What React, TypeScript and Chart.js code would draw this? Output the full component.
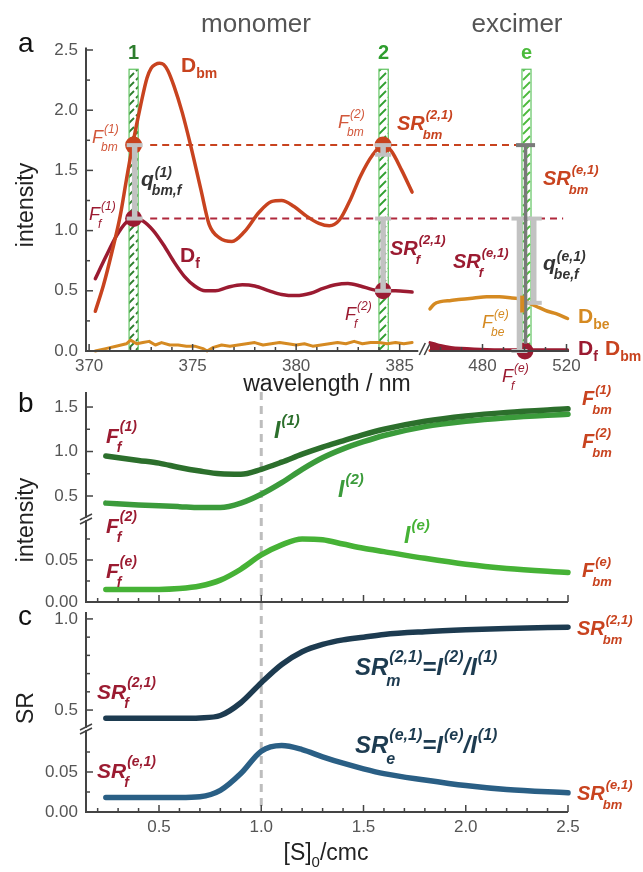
import React, { useEffect, useRef } from "react";
import { Chart, registerables } from "chart.js";
Chart.register(...registerables);

const W = 643;
const H = 872;
const FONT = "'Liberation Sans', Arial, Helvetica, sans-serif";
const TICK_COLOR = "#555";
const AXIS_COLOR = "#444";
const Y_BOX = 70;
const X_BOX = 30;

// ---------------- Panel a: spectra, monomer window ----------------
const wlBmMono = [370.3, 370.7, 371.1, 371.5, 371.8, 372.1, 372.5, 372.8, 373.0, 373.2, 373.4, 373.6, 373.8, 374.1, 374.5, 374.9, 375.4, 375.8, 376.3, 376.9, 377.5, 378.2, 378.8, 379.3, 379.9, 380.5, 381.1, 381.6, 382.1, 382.6, 383.1, 383.7, 384.2, 384.6, 385.1, 385.6];
const dBmMono = [0.33, 0.55, 0.82, 1.12, 1.42, 1.71, 2.05, 2.27, 2.35, 2.38, 2.39, 2.38, 2.33, 2.2, 1.98, 1.71, 1.34, 1.05, 0.94, 0.91, 0.99, 1.15, 1.24, 1.25, 1.2, 1.12, 1.06, 1.04, 1.09, 1.25, 1.45, 1.63, 1.71, 1.66, 1.5, 1.32];
const wlFMono = [370.3, 370.8, 371.3, 371.8, 372.2, 372.6, 373.1, 373.6, 374.1, 374.6, 375.1, 375.6, 376.1, 376.7, 377.4, 378.0, 378.7, 379.3, 380.0, 380.7, 381.3, 381.9, 382.5, 383.1, 383.7, 384.2, 384.8, 385.6];
const dFMono = [0.6, 0.78, 0.95, 1.07, 1.1, 1.08, 1.0, 0.88, 0.74, 0.62, 0.54, 0.5, 0.5, 0.53, 0.55, 0.54, 0.5, 0.47, 0.46, 0.48, 0.52, 0.55, 0.56, 0.54, 0.51, 0.5, 0.5, 0.49];
const wlBeMono = [370.3, 370.8, 371.3, 371.8, 372.0, 372.3, 372.6, 372.9, 373.2, 373.5, 373.9, 374.3, 374.7, 375.1, 375.5, 375.7, 376.0, 376.4, 376.8, 377.2, 377.6, 378.0, 378.4, 378.8, 379.2, 379.6, 380.0, 380.4, 380.8, 381.2, 381.6, 382.0, 382.4, 382.8, 383.2, 383.6, 384.0, 384.4, 384.8, 385.2, 385.6];
const dBeMono = [0.0, 0.02, 0.04, 0.06, 0.09, 0.06, 0.07, 0.08, 0.05, 0.07, 0.05, 0.05, 0.04, 0.04, 0.02, 0.0, 0.03, 0.05, 0.04, 0.05, 0.06, 0.07, 0.05, 0.06, 0.07, 0.06, 0.05, 0.06, 0.04, 0.05, 0.06, 0.07, 0.06, 0.08, 0.06, 0.07, 0.07, 0.06, 0.07, 0.06, 0.07];

// ---------------- Panel a: spectra, excimer window ----------------
const wlExc = [455, 457, 460, 465, 470, 476, 482, 488, 494, 499, 503, 507, 511, 515, 520.5];
const dBeExc = [0.35, 0.39, 0.41, 0.42, 0.43, 0.44, 0.45, 0.45, 0.44, 0.43, 0.39, 0.36, 0.33, 0.31, 0.27];
const dFExc = [0.07, 0.06, 0.045, 0.03, 0.022, 0.016, 0.012, 0.01, 0.01, 0.01, 0.01, 0.01, 0.01, 0.01, 0.01];
const dBmExc = [0.005, 0.005, 0.005, 0.005, 0.005, 0.005, 0.005, 0.005, 0.005, 0.005, 0.005, 0.005, 0.005, 0.005, 0.005];

// detection windows (hatched bars)
const barNames = ["1", "2", "e"];
const barWlFrom = [371.93, 384.0, 498.8];
const barWlTo = [372.37, 384.45, 503.1];
const barTop = 2.34;

// reference levels (dashed)
const levelVals = [1.71, 1.1];
const levelFrom = [372.95, 372.95];
const levelTo = [506.1, 518.4];

// marker points
const markBmWl = [372.15, 384.2];
const markBmVal = [1.71, 1.71];
const markFWl = [372.15, 384.2, 500.2];
const markFVal = [1.1, 0.5, 0.0];

// ratio bars (I-beams)
const ibWl = [372.2, 384.2, 384.2, 497.6, 504.4, 500.5, 498.9];
const ibTop = [1.71, 1.71, 1.1, 1.1, 1.1, 1.71, 0.46];
const ibBot = [1.1, 1.63, 0.5, 0.0, 0.4, 0.06, 0.32];
const ibKind = ["light", "light", "light", "light", "light", "dark", "orange"];

// ---------------- Panels b & c ----------------
const conc = [0.24, 0.4, 0.5, 0.6, 0.7, 0.8, 0.9, 1.0, 1.1, 1.2, 1.3, 1.4, 1.5, 1.6, 1.8, 2.0, 2.2, 2.5];
const int1 = [0.95, 0.9, 0.87, 0.82, 0.78, 0.75, 0.745, 0.8, 0.88, 0.97, 1.05, 1.12, 1.19, 1.25, 1.34, 1.4, 1.44, 1.48];
const int2 = [0.42, 0.4, 0.39, 0.38, 0.37, 0.37, 0.42, 0.52, 0.65, 0.8, 0.93, 1.03, 1.11, 1.18, 1.28, 1.34, 1.38, 1.42];
const intE = [0.015, 0.015, 0.015, 0.016, 0.019, 0.026, 0.039, 0.056, 0.068, 0.075, 0.074, 0.069, 0.064, 0.06, 0.052, 0.045, 0.04, 0.035];
const srM = [0.455, 0.455, 0.455, 0.455, 0.457, 0.47, 0.54, 0.65, 0.75, 0.82, 0.86, 0.885, 0.9, 0.915, 0.93, 0.94, 0.947, 0.955];
const srE = [0.018, 0.018, 0.018, 0.018, 0.019, 0.027, 0.048, 0.076, 0.083, 0.078, 0.069, 0.061, 0.054, 0.048, 0.04, 0.033, 0.028, 0.024];
const cmcValue = 1.0;

// tick definitions
const tickWlMono = [370, 375, 380, 385];
const tickWlExc = [480, 520];
const tickIntA = [0, 0.5, 1.0, 1.5, 2.0, 2.5];
const tickIntBUp = [0.5, 1.0, 1.5];
const tickLow = [0, 0.05];
const tickSrUp = [0.5, 1.0];
const tickConc = [0.5, 1.0, 1.5, 2.0, 2.5];

// colours
const cBm = "#c8431f";
const cBmLbl = "#d2583c";
const cF = "#9b1b31";
const cBe = "#d58a22";
const cI1 = "#2c6f2c";
const cI2 = "#3b9b3b";
const cIe = "#46b236";
const cSrM = "#1d3b50";
const cSrE = "#2a5f85";
const barColors = ["#2d7d2d", "#2f9e2f", "#4cbb3c"];

type Pt = { x: number; y: number };
const zip = (xs: number[], ys: number[]): Pt[] => xs.map((x, i) => ({ x, y: ys[i] }));

function curve(xs: number[], ys: number[], color: string, width: number, extra: any = {}) {
  return {
    data: zip(xs, ys),
    showLine: true,
    borderColor: color,
    backgroundColor: color,
    borderWidth: width,
    pointRadius: 0,
    cubicInterpolationMode: "monotone",
    borderCapStyle: "round",
    borderJoinStyle: "round",
    clip: false,
    fill: false,
    order: 5,
    ...extra,
  };
}

function fixedFit(s: any) {
  const shown = !!s.options.display;
  if (s.isHorizontal()) s.height = shown ? X_BOX : 0;
  else s.width = shown ? Y_BOX : 0;
  s.paddingLeft = 0;
  s.paddingRight = 0;
  s.paddingTop = 0;
  s.paddingBottom = 0;
}

function scale(axis: "x" | "y", min: number, max: number, labels: number[] | null, fmt: (v: number) => string, pad: number) {
  return {
    type: "linear",
    position: axis === "x" ? "bottom" : "left",
    min,
    max,
    display: !!labels,
    grid: { display: false, drawTicks: false },
    border: { display: false },
    ticks: {
      display: !!labels,
      autoSkip: false,
      maxRotation: 0,
      minRotation: 0,
      padding: pad,
      color: TICK_COLOR,
      font: { family: FONT, size: 17 },
      callback: (v: any) => fmt(Number(v)),
    },
    afterBuildTicks: (s: any) => {
      s.ticks = (labels || []).map((v) => ({ value: v }));
    },
    afterFit: fixedFit,
  };
}

function seg(ctx: CanvasRenderingContext2D, x1: number, y1: number, x2: number, y2: number) {
  ctx.beginPath();
  ctx.moveTo(x1, y1);
  ctx.lineTo(x2, y2);
  ctx.stroke();
}

type AxSpec = { from: number; to: number; majors: number[]; minors: number[] };
type AxesCfg = { x?: AxSpec; y?: AxSpec; yBreakBelow?: boolean; xBreakAfter?: boolean };

function axesPlugin(cfg: AxesCfg) {
  return {
    id: "axesDraw",
    afterDraw(chart: any) {
      const { ctx, chartArea: a } = chart;
      const xs = chart.scales.x;
      const ys = chart.scales.y;
      ctx.save();
      ctx.strokeStyle = AXIS_COLOR;
      ctx.lineCap = "butt";
      if (cfg.x) {
        const y0 = a.bottom;
        const x1 = xs.getPixelForValue(cfg.x.from);
        const x2 = xs.getPixelForValue(cfg.x.to);
        ctx.lineWidth = 2;
        seg(ctx, x1, y0, x2, y0);
        ctx.lineWidth = 1.5;
        cfg.x.majors.forEach((v) => {
          const p = xs.getPixelForValue(v);
          seg(ctx, p, y0, p, y0 - 7);
        });
        cfg.x.minors.forEach((v) => {
          const p = xs.getPixelForValue(v);
          seg(ctx, p, y0, p, y0 - 4);
        });
        if (cfg.xBreakAfter) {
          ctx.lineWidth = 1.6;
          seg(ctx, x2 + 1, y0 + 4, x2 + 7, y0 - 8);
          seg(ctx, x2 + 6, y0 + 4, x2 + 12, y0 - 8);
        }
      }
      if (cfg.y) {
        const x0 = a.left;
        const y1 = ys.getPixelForValue(cfg.y.from);
        const y2 = ys.getPixelForValue(cfg.y.to);
        ctx.lineWidth = 2;
        seg(ctx, x0, y1 + 1, x0, y2);
        ctx.lineWidth = 1.5;
        cfg.y.majors.forEach((v) => {
          const p = ys.getPixelForValue(v);
          seg(ctx, x0, p, x0 + 7, p);
        });
        cfg.y.minors.forEach((v) => {
          const p = ys.getPixelForValue(v);
          seg(ctx, x0, p, x0 + 4, p);
        });
        if (cfg.yBreakBelow) {
          const b = a.bottom;
          ctx.lineWidth = 1.6;
          seg(ctx, x0 - 6, b + 3, x0 + 6, b - 3);
          seg(ctx, x0 - 6, b + 7, x0 + 6, b + 1);
        }
      }
      ctx.restore();
    },
  };
}

function hatchPattern(ctx: CanvasRenderingContext2D, color: string) {
  const c = document.createElement("canvas");
  c.width = 9;
  c.height = 9;
  const g = c.getContext("2d")!;
  g.strokeStyle = color;
  g.lineWidth = 1.8;
  g.beginPath();
  g.moveTo(1, 8);
  g.lineTo(8, 1);
  g.stroke();
  return ctx.createPattern(c, "repeat");
}

const barsPlugin = {
  id: "bars",
  beforeDatasetsDraw(chart: any) {
    const { ctx } = chart;
    const xs = chart.scales.x;
    const ys = chart.scales.y;
    ctx.save();
    barNames.forEach((name, i) => {
      if (barWlFrom[i] < xs.min || barWlTo[i] > xs.max) return;
      const x1 = xs.getPixelForValue(barWlFrom[i]);
      const x2 = xs.getPixelForValue(barWlTo[i]);
      const yT = ys.getPixelForValue(barTop);
      const yB = ys.getPixelForValue(0);
      ctx.fillStyle = "#fff";
      ctx.fillRect(x1, yT, x2 - x1, yB - yT);
      const pat = hatchPattern(ctx, barColors[i]);
      if (pat) {
        ctx.fillStyle = pat;
        ctx.fillRect(x1, yT, x2 - x1, yB - yT);
      }
      ctx.strokeStyle = "#62c462";
      ctx.lineWidth = 1.2;
      ctx.strokeRect(x1, yT, x2 - x1, yB - yT);
      ctx.fillStyle = barColors[i];
      ctx.font = `bold 20px ${FONT}`;
      ctx.textAlign = "center";
      ctx.textBaseline = "alphabetic";
      ctx.fillText(name, (x1 + x2) / 2, yT - 10);
    });
    ctx.restore();
  },
};

const ibStyle: Record<string, { color: string; w: number; cap: number }> = {
  light: { color: "#c2c2c2", w: 5.5, cap: 16 },
  dark: { color: "#7a7a7a", w: 3.5, cap: 19 },
  orange: { color: cBe, w: 4, cap: 0 },
};

const ibeamPlugin = {
  id: "ibeams",
  afterDatasetsDraw(chart: any) {
    const { ctx } = chart;
    const xs = chart.scales.x;
    const ys = chart.scales.y;
    ctx.save();
    ibWl.forEach((wl, i) => {
      if (wl < xs.min || wl > xs.max) return;
      const st = ibStyle[ibKind[i]];
      const x = xs.getPixelForValue(wl);
      const yt = ys.getPixelForValue(ibTop[i]);
      const yb = ys.getPixelForValue(ibBot[i]);
      ctx.fillStyle = st.color;
      ctx.fillRect(x - st.w / 2, yt, st.w, yb - yt);
      if (st.cap > 0) {
        ctx.fillRect(x - st.cap / 2, yt - 2, st.cap, 4);
        if (ibKind[i] === "light") ctx.fillRect(x - st.cap / 2, yb - 2, st.cap, 4);
      }
    });
    ctx.restore();
  },
};

// vertical cmc line through panels b and c
const cmcPlugin = {
  id: "cmcLine",
  beforeDatasetsDraw(chart: any) {
    const { ctx, chartArea: a } = chart;
    const x = chart.scales.x.getPixelForValue(cmcValue);
    ctx.save();
    ctx.strokeStyle = "#bdbdbd";
    ctx.lineWidth = 3;
    ctx.setLineDash([8, 6]);
    seg(ctx, x, a.top, x, 812);
    ctx.restore();
  },
};

// ---------------- text labels ----------------
type Seg = { t: string; sup?: string; sub?: string };
type Label = {
  x: number;
  y: number;
  segs: Seg[];
  size: number;
  color: string;
  bold?: boolean;
  italic?: boolean;
  supDy?: number;
  subDy?: number;
  center?: boolean;
  rot?: number;
};

const fontStr = (size: number, bold?: boolean, italic?: boolean) =>
  `${italic ? "italic " : ""}${bold ? "bold " : ""}${size}px ${FONT}`;

function drawLabel(ctx: CanvasRenderingContext2D, L: Label) {
  const small = Math.round(L.size * 0.66);
  const supDy = (L.supDy ?? 0.55) * L.size;
  const subDy = (L.subDy ?? 0.45) * L.size;
  const measure = () => {
    let w = 0;
    for (const s of L.segs) {
      ctx.font = fontStr(L.size, L.bold, L.italic);
      w += ctx.measureText(s.t).width;
      ctx.font = fontStr(small, L.bold, L.italic);
      let e = 0;
      if (s.sup) e = Math.max(e, ctx.measureText(s.sup).width + 1);
      if (s.sub) e = Math.max(e, ctx.measureText(s.sub).width);
      w += e;
    }
    return w;
  };
  ctx.save();
  ctx.fillStyle = L.color;
  ctx.textAlign = "left";
  ctx.textBaseline = "alphabetic";
  ctx.translate(L.x, L.y);
  if (L.rot) ctx.rotate(L.rot);
  let cx = L.center ? -measure() / 2 : 0;
  for (const s of L.segs) {
    ctx.font = fontStr(L.size, L.bold, L.italic);
    ctx.fillText(s.t, cx, 0);
    cx += ctx.measureText(s.t).width;
    ctx.font = fontStr(small, L.bold, L.italic);
    let e = 0;
    if (s.sup) {
      ctx.fillText(s.sup, cx + 1, -supDy);
      e = Math.max(e, ctx.measureText(s.sup).width + 1);
    }
    if (s.sub) {
      ctx.fillText(s.sub, cx - (L.italic ? 2 : 0), subDy);
      e = Math.max(e, ctx.measureText(s.sub).width);
    }
    cx += e;
  }
  ctx.restore();
}

const labels: Label[] = [
  // panel a
  { x: 18, y: 52, segs: [{ t: "a" }], size: 28, color: "#111" },
  { x: 256, y: 32, segs: [{ t: "monomer" }], size: 26, color: "#555", center: true },
  { x: 517, y: 32, segs: [{ t: "excimer" }], size: 26, color: "#555", center: true },
  { x: 181, y: 72, segs: [{ t: "D", sub: "bm" }], size: 21, color: cBm, bold: true, subDy: 0.3 },
  { x: 92, y: 143, segs: [{ t: "F", sup: "(1)", sub: "bm" }], size: 18, color: cBmLbl, italic: true },
  { x: 141, y: 186, segs: [{ t: "q", sup: "(1)", sub: "bm,f" }], size: 21, color: "#333", bold: true, italic: true, supDy: 0.45, subDy: 0.42 },
  { x: 89, y: 220, segs: [{ t: "F", sup: "(1)", sub: "f" }], size: 18, color: cF, italic: true },
  { x: 180, y: 262, segs: [{ t: "D", sub: "f" }], size: 21, color: cF, bold: true, subDy: 0.3 },
  { x: 338, y: 128, segs: [{ t: "F", sup: "(2)", sub: "bm" }], size: 18, color: cBmLbl, italic: true },
  { x: 397, y: 130, segs: [{ t: "SR", sup: "(2,1)", sub: "bm" }], size: 20, color: cBm, bold: true, italic: true },
  { x: 543, y: 185, segs: [{ t: "SR", sup: "(e,1)", sub: "bm" }], size: 20, color: cBm, bold: true, italic: true },
  { x: 390, y: 255, segs: [{ t: "SR", sup: "(2,1)", sub: "f" }], size: 20, color: cF, bold: true, italic: true },
  { x: 453, y: 268, segs: [{ t: "SR", sup: "(e,1)", sub: "f" }], size: 20, color: cF, bold: true, italic: true },
  { x: 543, y: 270, segs: [{ t: "q", sup: "(e,1)", sub: "be,f" }], size: 21, color: "#333", bold: true, italic: true, supDy: 0.45, subDy: 0.42 },
  { x: 345, y: 320, segs: [{ t: "F", sup: "(2)", sub: "f" }], size: 18, color: cF, italic: true },
  { x: 482, y: 328, segs: [{ t: "F", sup: "(e)", sub: "be" }], size: 18, color: cBe, italic: true },
  { x: 578, y: 323, segs: [{ t: "D", sub: "be" }], size: 21, color: cBe, bold: true, subDy: 0.3 },
  { x: 578, y: 355, segs: [{ t: "D", sub: "f" }], size: 21, color: cF, bold: true, subDy: 0.3 },
  { x: 605, y: 355, segs: [{ t: "D", sub: "bm" }], size: 21, color: cBm, bold: true, subDy: 0.3 },
  { x: 502, y: 382, segs: [{ t: "F", sup: "(e)", sub: "f" }], size: 18, color: cF, italic: true },
  { x: 33, y: 205, segs: [{ t: "intensity" }], size: 23, color: "#222", center: true, rot: -Math.PI / 2 },
  { x: 327, y: 391, segs: [{ t: "wavelength / nm" }], size: 23, color: "#222", center: true },
  // panel b
  { x: 18, y: 412, segs: [{ t: "b" }], size: 28, color: "#111" },
  { x: 33, y: 520, segs: [{ t: "intensity" }], size: 23, color: "#222", center: true, rot: -Math.PI / 2 },
  { x: 106, y: 443, segs: [{ t: "F", sup: "(1)", sub: "f" }], size: 21, color: cF, bold: true, italic: true },
  { x: 106, y: 533, segs: [{ t: "F", sup: "(2)", sub: "f" }], size: 21, color: cF, bold: true, italic: true },
  { x: 106, y: 578, segs: [{ t: "F", sup: "(e)", sub: "f" }], size: 21, color: cF, bold: true, italic: true },
  { x: 274, y: 438, segs: [{ t: "I", sup: "(1)" }], size: 23, color: cI1, bold: true, italic: true },
  { x: 338, y: 497, segs: [{ t: "I", sup: "(2)" }], size: 23, color: cI2, bold: true, italic: true },
  { x: 404, y: 543, segs: [{ t: "I", sup: "(e)" }], size: 23, color: cIe, bold: true, italic: true },
  { x: 582, y: 405, segs: [{ t: "F", sup: "(1)", sub: "bm" }], size: 20, color: cBm, bold: true, italic: true },
  { x: 582, y: 448, segs: [{ t: "F", sup: "(2)", sub: "bm" }], size: 20, color: cBm, bold: true, italic: true },
  { x: 582, y: 577, segs: [{ t: "F", sup: "(e)", sub: "bm" }], size: 20, color: cBm, bold: true, italic: true },
  // panel c
  { x: 18, y: 625, segs: [{ t: "c" }], size: 28, color: "#111" },
  { x: 33, y: 708, segs: [{ t: "SR" }], size: 23, color: "#222", center: true, rot: -Math.PI / 2 },
  { x: 97, y: 699, segs: [{ t: "SR", sup: "(2,1)", sub: "f" }], size: 21, color: cF, bold: true, italic: true },
  { x: 97, y: 778, segs: [{ t: "SR", sup: "(e,1)", sub: "f" }], size: 21, color: cF, bold: true, italic: true },
  { x: 355, y: 675, segs: [{ t: "SR", sup: "(2,1)", sub: "m" }, { t: "=I", sup: "(2)" }, { t: "/I", sup: "(1)" }], size: 24, color: cSrM, bold: true, italic: true },
  { x: 355, y: 753, segs: [{ t: "SR", sup: "(e,1)", sub: "e" }, { t: "=I", sup: "(e)" }, { t: "/I", sup: "(1)" }], size: 24, color: cSrM, bold: true, italic: true },
  { x: 577, y: 635, segs: [{ t: "SR", sup: "(2,1)", sub: "bm" }], size: 20, color: cBm, bold: true, italic: true },
  { x: 577, y: 800, segs: [{ t: "SR", sup: "(e,1)", sub: "bm" }], size: 20, color: cBm, bold: true, italic: true },
  { x: 326, y: 860, segs: [{ t: "[S]", sub: "0" }, { t: "/cmc" }], size: 23, color: "#222", center: true, subDy: 0.3 },
];

const labelsPlugin = {
  id: "labels",
  afterDraw(chart: any) {
    labels.forEach((L) => drawLabel(chart.ctx, L));
  },
};

function range(a: number, b: number, step: number, skip: number[]) {
  const out: number[] = [];
  for (let i = Math.round(a / step); i <= Math.round(b / step); i++) {
    const v = +(i * step).toFixed(4);
    if (!skip.some((s) => Math.abs(s - v) < 1e-6)) out.push(v);
  }
  return out;
}

function baseConfig(area: { l: number; t: number; r: number; b: number }, scales: any, datasets: any[], plugins: any[]) {
  const padL = scales.y.display ? area.l - Y_BOX : area.l;
  const padB = scales.x.display ? H - area.b - X_BOX : H - area.b;
  return {
    type: "scatter",
    data: { datasets },
    options: {
      responsive: false,
      animation: false,
      devicePixelRatio: 1,
      events: [],
      layout: { autoPadding: false, padding: { left: padL, top: area.t, right: W - area.r, bottom: padB } },
      plugins: { legend: { display: false }, tooltip: { enabled: false }, title: { display: false } },
      scales,
    },
    plugins,
  };
}

const f1 = (v: number) => v.toFixed(1);
const f2 = (v: number) => v.toFixed(2);
const f0 = (v: number) => v.toFixed(0);

function buildConfigs() {
  const concMinors = range(0.2, 2.4, 0.1, tickConc);
  const cfgs: any[] = [];

  // a - monomer window
  const aLeftMin = 369.85;
  const aLeftMax = 386.61;
  cfgs.push(
    baseConfig(
      { l: 86, t: 50, r: 433, b: 351 },
      { x: scale("x", aLeftMin, aLeftMax, tickWlMono, f0, 5), y: scale("y", 0, 2.5, tickIntA, f1, 8) },
      [
        { data: zip(markBmWl, markBmVal), showLine: false, pointRadius: 8.5, pointBackgroundColor: cBm, pointBorderWidth: 0, clip: false, order: 0 },
        { data: zip(markFWl, markFVal), showLine: false, pointRadius: 8.5, pointBackgroundColor: cF, pointBorderWidth: 0, clip: false, order: 0 },
        curve(wlBmMono, dBmMono, cBm, 3.5, { order: 2 }),
        curve(wlFMono, dFMono, cF, 3.5, { order: 3 }),
        curve(wlBeMono, dBeMono, cBe, 3, { order: 4, cubicInterpolationMode: "default", tension: 0 }),
        curve([levelFrom[0], aLeftMax], [levelVals[0], levelVals[0]], cBm, 2, { order: 6, borderDash: [7, 5], borderCapStyle: "butt", tension: 0 }),
        curve([levelFrom[1], aLeftMax], [levelVals[1], levelVals[1]], "#b0283c", 2, { order: 6, borderDash: [7, 5], borderCapStyle: "butt", tension: 0 }),
      ],
      [
        barsPlugin,
        ibeamPlugin,
        axesPlugin({
          x: { from: aLeftMin, to: 385.9, majors: tickWlMono, minors: range(371, 384, 1, tickWlMono) },
          y: { from: 0, to: 2.52, majors: tickIntA, minors: [0.25, 0.75, 1.25, 1.75, 2.25] },
          xBreakAfter: true,
        }),
      ]
    )
  );

  // a - excimer window
  const aRightMin = 455;
  const aRightMax = 521.19;
  cfgs.push(
    baseConfig(
      { l: 430, t: 50, r: 569, b: 351 },
      { x: scale("x", aRightMin, aRightMax, tickWlExc, f0, 5), y: scale("y", 0, 2.5, null, f1, 8) },
      [
        { data: zip([markFWl[2]], [markFVal[2]]), showLine: false, pointRadius: 8.5, pointBackgroundColor: cF, pointBorderWidth: 0, clip: false, order: 0 },
        curve(wlExc, dBmExc, cBm, 3, { order: 3 }),
        curve(wlExc, dFExc, cF, 3, { order: 2, fill: "origin", backgroundColor: cF }),
        curve(wlExc, dBeExc, cBe, 3.5, { order: 4 }),
        curve([aRightMin, levelTo[0]], [levelVals[0], levelVals[0]], cBm, 2, { order: 6, borderDash: [7, 5], borderCapStyle: "butt", tension: 0 }),
        curve([aRightMin, levelTo[1]], [levelVals[1], levelVals[1]], "#b0283c", 2, { order: 6, borderDash: [7, 5], borderCapStyle: "butt", tension: 0 }),
      ],
      [
        barsPlugin,
        ibeamPlugin,
        axesPlugin({ x: { from: aRightMin, to: aRightMax, majors: tickWlExc, minors: [460, 470, 490, 500, 510] } }),
      ]
    )
  );

  const bMin = 0.143;
  const bMax = 2.5;
  // b - upper
  cfgs.push(
    baseConfig(
      { l: 86, t: 392, r: 568, b: 517 },
      { x: scale("x", bMin, bMax, null, f1, 6), y: scale("y", 0.264, 1.669, tickIntBUp, f1, 8) },
      [curve(conc, int2, cI2, 5.5, { order: 2 }), curve(conc, int1, cI1, 5.5, { order: 1 })],
      [cmcPlugin, axesPlugin({ y: { from: 0.264, to: 1.669, majors: tickIntBUp, minors: [0.75, 1.25] }, yBreakBelow: true })]
    )
  );
  // b - lower
  cfgs.push(
    baseConfig(
      { l: 86, t: 520, r: 568, b: 602 },
      { x: scale("x", bMin, bMax, null, f1, 6), y: scale("y", 0, 0.0976, tickLow, f2, 8) },
      [curve(conc, intE, cIe, 5.5)],
      [
        axesPlugin({
          x: { from: bMin, to: bMax, majors: tickConc, minors: concMinors },
          y: { from: 0, to: 0.0976, majors: tickLow, minors: [0.025, 0.075] },
        }),
      ]
    )
  );
  // c - upper
  cfgs.push(
    baseConfig(
      { l: 86, t: 612, r: 568, b: 727 },
      { x: scale("x", bMin, bMax, null, f1, 6), y: scale("y", 0.407, 1.038, tickSrUp, f1, 8) },
      [curve(conc, srM, cSrM, 5.5)],
      [axesPlugin({ y: { from: 0.407, to: 1.038, majors: tickSrUp, minors: [0.6, 0.7, 0.8, 0.9] }, yBreakBelow: true })]
    )
  );
  // c - lower
  cfgs.push(
    baseConfig(
      { l: 86, t: 730, r: 568, b: 812 },
      { x: scale("x", bMin, bMax, tickConc, f1, 5), y: scale("y", 0, 0.1025, tickLow, f2, 8) },
      [curve(conc, srE, cSrE, 5.5)],
      [
        axesPlugin({
          x: { from: bMin, to: bMax, majors: tickConc, minors: concMinors },
          y: { from: 0, to: 0.1025, majors: tickLow, minors: [0.025, 0.075] },
        }),
        labelsPlugin,
      ]
    )
  );
  return cfgs;
}

export default function App() {
  const holder = useRef<HTMLDivElement>(null);
  useEffect(() => {
    const host = holder.current;
    if (!host) return;
    const charts = buildConfigs().map((cfg) => {
      const cv = document.createElement("canvas");
      cv.width = W;
      cv.height = H;
      cv.style.position = "absolute";
      cv.style.left = "0";
      cv.style.top = "0";
      cv.style.width = W + "px";
      cv.style.height = H + "px";
      host.appendChild(cv);
      return new Chart(cv, cfg as any);
    });
    return () => {
      charts.forEach((c) => {
        const cv = c.canvas;
        c.destroy();
        cv.remove();
      });
    };
  }, []);
  return (
    <div
      ref={holder}
      style={{ position: "absolute", left: 0, top: 0, width: W, height: H, background: "#fff", overflow: "hidden" }}
    />
  );
}
